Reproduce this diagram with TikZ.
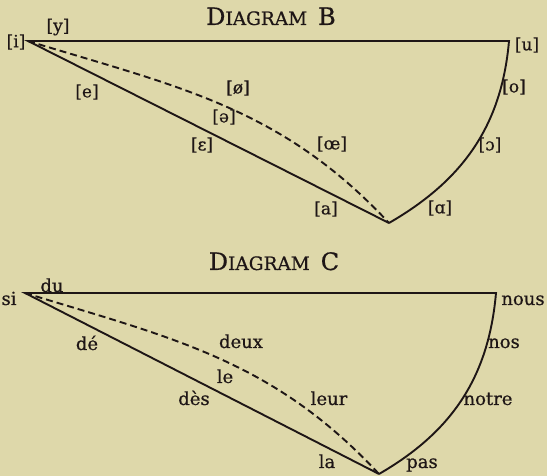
\documentclass[tikz,border=0pt]{standalone}
\usepackage{fontspec}
\setmainfont{DejaVu Serif}[FakeBold=0.6]
\usepackage{tikz}
\usetikzlibrary{positioning}
\usepackage{xcolor}
\definecolor{paper}{RGB}{222,216,170}
\definecolor{ink}{RGB}{30,22,22}
\newcommand{\diagname}[1]{{\fontsize{24}{27}\selectfont D}{\fontsize{18.5}{21}\selectfont IAGRAM}\hspace{11pt}{\fontsize{24}{27}\selectfont #1}}
\tikzset{
  vline/.style={ink,line width=1.9pt,line join=miter},
  vcurve/.style={ink,line width=1.9pt,dash pattern=on 7pt off 4pt},
  ipalabel/.style={text=ink,font=\fontsize{17}{20}\selectfont,inner sep=0pt},
  wordlabel/.style={text=ink,font=\fontsize{18}{21}\selectfont,inner sep=0pt,anchor=base},
  diagtitle/.style={text=ink,inner sep=0pt,anchor=base},
}

\begin{document}
\begin{tikzpicture}[x=1pt,y=1pt]
    \fill[paper] (0,0) rectangle (547,476);
    \useasboundingbox (0,0) rectangle (547,476);
    % Diagram B
    \node[diagtitle] (titleB) at (271,451) {\diagname{B}};
    \coordinate (bi) at (28,435);
    \coordinate (bu) at (509,435);
    \coordinate (ba) at (389,253);
    \draw[vline] (ba) -- (bi) -- (bu) to[out=-95,in=30] (ba);
    \draw[vcurve] (bi) to[out=-17,in=133] (ba);
    \node[ipalabel] (li) at (16,434) {[i]};
    \node[ipalabel] (ly) at (58,449) {[y]};
    \node[ipalabel] (lu) at (527,431) {[u]};
    \node[ipalabel] (lo) at (514,389) {[o]};
    \node[ipalabel] (le) at (87,384) {[e]};
    \node[ipalabel] (loe) at (238,388) {[ø]};
    \node[ipalabel] (lschwa) at (224,359) {[ə]};
    \node[ipalabel] (leps) at (202,331) {[ɛ]};
    \node[ipalabel] (loelig) at (332,332) {[œ]};
    \node[ipalabel] (lopeno) at (490,331) {[ɔ]};
    \node[ipalabel] (la) at (326,267) {[a]};
    \node[ipalabel] (lalpha) at (440,268) {[ɑ]};
    % Diagram C
    \node[diagtitle] (titleC) at (274,206) {\diagname{C}};
    \coordinate (csi) at (25,183);
    \coordinate (cnous) at (496,183);
    \coordinate (cpas) at (379,2);
    \draw[vline] (cpas) -- (csi) -- (cnous) to[out=-95,in=30] (cpas);
    \draw[vcurve] (csi) to[out=-17,in=133] (cpas);
    \node[wordlabel] (wsi) at (9,171) {si};
    \node[wordlabel] (wdu) at (52,184) {du};
    \node[wordlabel] (wnous) at (523,171) {nous};
    \node[wordlabel] (wnos) at (504,128) {nos};
    \node[wordlabel] (wde) at (87,126) {dé};
    \node[wordlabel] (wdeux) at (241,128) {deux};
    \node[wordlabel] (wle) at (225,93) {le};
    \node[wordlabel] (wdes) at (194,71) {dès};
    \node[wordlabel] (wleur) at (329,71) {leur};
    \node[wordlabel] (wnotre) at (488,71) {notre};
    \node[wordlabel] (wla) at (327,8) {la};
    \node[wordlabel] (wpas) at (422,8) {pas};
\end{tikzpicture}
\end{document}
